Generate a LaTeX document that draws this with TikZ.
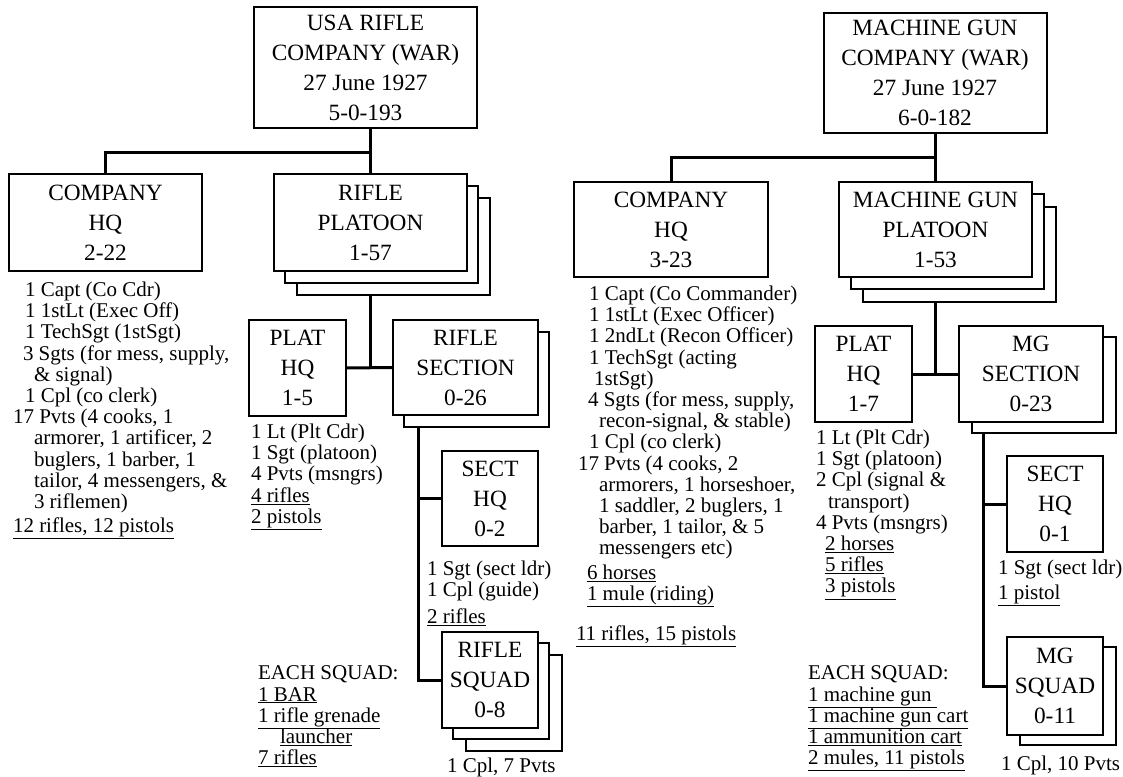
\documentclass[tikz,border=0pt]{standalone}
\usepackage{fontspec}
\setmainfont{Liberation Serif}
\usetikzlibrary{backgrounds}
\tikzset{
  box/.style={draw=black, line width=2pt, fill=white, inner sep=0pt, outer sep=0pt,
    align=center, font=\fontsize{23.3}{30}\selectfont, line join=miter},
  conn/.style={line width=3pt, line join=miter},
  shad/.style={draw=black, line width=2pt, fill=white, line join=miter},
  lst/.style={inner sep=0pt, outer sep=0pt, anchor=north west, align=left,
    font=\fontsize{21}{21.2}\selectfont}
}
\newcommand\mkshadow[3]{\draw[shad] ([shift={(#2,#3)}]#1.north west) rectangle ([shift={(#2,#3)}]#1.south east);}
\begin{document}
\begin{tikzpicture}[x=1pt,y=-1pt]
\useasboundingbox (0,0) rectangle (1123,776);
% ---------- left: rifle company ----------
\node[box, minimum width=223pt, minimum height=121pt] (topL) at (365.5,67.5) {USA RIFLE\\COMPANY (WAR)\\27 June 1927\\5-0-193};
\node[box, minimum width=193pt, minimum height=97pt] (chqL) at (105.5,222.5) {COMPANY\\HQ\\2-22};
\node[box, minimum width=193pt, minimum height=97pt] (rplt) at (370.5,222.5) {RIFLE\\PLATOON\\1-57};
\node[box, minimum width=97pt, minimum height=96pt] (phqL) at (297.5,368) {PLAT\\HQ\\1-5};
\node[box, minimum width=145pt, minimum height=95pt] (rsec) at (465.5,367.5) {RIFLE\\SECTION\\0-26};
\node[box, minimum width=96pt, minimum height=95pt] (shqL) at (490,498.5) {SECT\\HQ\\0-2};
\node[box, minimum width=96pt, minimum height=96pt] (rsq) at (490,680) {RIFLE\\SQUAD\\0-8};
% ---------- right: machine gun company ----------
\node[box, minimum width=223pt, minimum height=120pt] (topR) at (935,73) {MACHINE GUN\\COMPANY (WAR)\\27 June 1927\\6-0-182};
\node[box, minimum width=194pt, minimum height=95pt] (chqR) at (671,229.5) {COMPANY\\HQ\\3-23};
\node[box, minimum width=193pt, minimum height=95pt] (mgplt) at (935.5,229.5) {MACHINE GUN\\PLATOON\\1-53};
\node[box, minimum width=97pt, minimum height=96pt] (phqR) at (863.5,374) {PLAT\\HQ\\1-7};
\node[box, minimum width=144pt, minimum height=96pt] (mgsec) at (1031,374) {MG\\SECTION\\0-23};
\node[box, minimum width=96pt, minimum height=96pt] (shqR) at (1055,504) {SECT\\HQ\\0-1};
\node[box, minimum width=96pt, minimum height=98pt] (mgsq) at (1055,686) {MG\\SQUAD\\0-11};
% ---------- lists, left ----------
\node[lst] (lchqL) at (13,282) {\hspace*{12pt}1 Capt (Co Cdr)\\
\hspace*{12pt}1 1stLt (Exec Off)\\
\hspace*{12pt}1 TechSgt (1stSgt)\\
\hspace*{10pt}3 Sgts (for mess, supply,\\
\hspace*{21pt}\& signal)\\
\hspace*{12pt}1 Cpl (co clerk)\\
17 Pvts (4 cooks, 1\\
\hspace*{21pt}armorer, 1 artificer, 2\\
\hspace*{21pt}buglers, 1 barber, 1\\
\hspace*{21pt}tailor, 4 messengers, \&\\
\hspace*{21pt}3 riflemen)\\[3pt]
\underline{12 rifles, 12 pistols}};
\node[lst] (lphqL) at (251,424) {1 Lt (Plt Cdr)\\1 Sgt (platoon)\\4 Pvts (msngrs)\\\underline{4 rifles}\\\underline{2 pistols}};
\node[lst] (lshqL) at (427,561) {1 Sgt (sect ldr)\\1 Cpl (guide)\\[6pt]\underline{2 rifles}};
\node[lst] (lrsq) at (447,758) {1 Cpl, 7 Pvts};
\node[lst] (eachL) at (258,666) {EACH SQUAD:\\\underline{1 BAR}\\\underline{1 rifle grenade}\\\hspace*{22pt}\underline{launcher}\\\underline{7 rifles}};
% ---------- lists, right ----------
\node[lst] (lchqR) at (576,286) {\hspace*{13pt}1 Capt (Co Commander)\\
\hspace*{13pt}1 1stLt (Exec Officer)\\
\hspace*{13pt}1 2ndLt (Recon Officer)\\
\hspace*{13pt}1 TechSgt (acting\\
\hspace*{18pt}1stSgt)\\
\hspace*{12pt}4 Sgts (for mess, supply,\\
\hspace*{23pt}recon-signal, \& stable)\\
\hspace*{13pt}1 Cpl (co clerk)\\
\hspace*{2pt}17 Pvts (4 cooks, 2\\
\hspace*{23pt}armorers, 1 horseshoer,\\
\hspace*{23pt}1 saddler, 2 buglers, 1\\
\hspace*{23pt}barber, 1 tailor, \& 5\\
\hspace*{23pt}messengers etc)\\[3pt]
\hspace*{11pt}\underline{6 horses}\\
\hspace*{11pt}\underline{1 mule (riding)}\\[18pt]
\underline{11 rifles, 15 pistols}};
\node[lst] (lphqR) at (816,430) {1 Lt (Plt Cdr)\\1 Sgt (platoon)\\2 Cpl (signal \&\\\hspace*{12pt}transport)\\4 Pvts (msngrs)\\\hspace*{9pt}\underline{2 horses}\\\hspace*{9pt}\underline{5 rifles}\\\hspace*{9pt}\underline{3 pistols}};
\node[lst] (lshqR) at (998,560) {1 Sgt (sect ldr)\\[4pt]\underline{1 pistol}};
\node[lst] (lmgsq) at (1001,756) {1 Cpl, 10 Pvts};
\node[lst] (eachR) at (808,666) {EACH SQUAD:\\\underline{1 machine gun\ }\\\underline{1 machine gun cart}\\\underline{1 ammunition cart}\\\underline{2 mules, 11 pistols}};
% ---------- connectors and stacked copies ----------
\begin{pgfonlayer}{background}
\fill[white] (0,0) rectangle (1123,776);
\coordinate (jL) at (370.5,152);
\draw[conn] (rplt.north) -- (rplt.north |- topL.south);
\draw[conn] (chqL.north) |- (jL);
\draw[conn] (rplt.south) -- (rplt.south |- phqL.east);
\draw[conn] (phqL.east) -- (rsec.west);
\coordinate (sL) at (418,400);
\draw[conn] (sL) |- (rsq.west);
\draw[conn] (shqL.west) -- (shqL.west -| sL);
\coordinate (jR) at (935.5,157);
\draw[conn] (mgplt.north) -- (mgplt.north |- topR.south);
\draw[conn] (chqR.north) |- (jR);
\draw[conn] (mgplt.south) -- (mgplt.south |- phqR.east);
\draw[conn] (phqR.east) -- (mgsec.west);
\coordinate (sR) at (983,400);
\draw[conn] (sR) |- (mgsq.west);
\draw[conn] (shqR.west) -- (shqR.west -| sR);
\mkshadow{rplt}{23}{24}
\mkshadow{rplt}{11}{12}
\mkshadow{rsec}{11}{12}
\mkshadow{rsq}{24}{23}
\mkshadow{rsq}{11}{11}
\mkshadow{mgplt}{24}{25}
\mkshadow{mgplt}{12}{12}
\mkshadow{mgsec}{13}{11}
\mkshadow{mgsq}{13}{10}
\end{pgfonlayer}
\end{tikzpicture}
\end{document}
